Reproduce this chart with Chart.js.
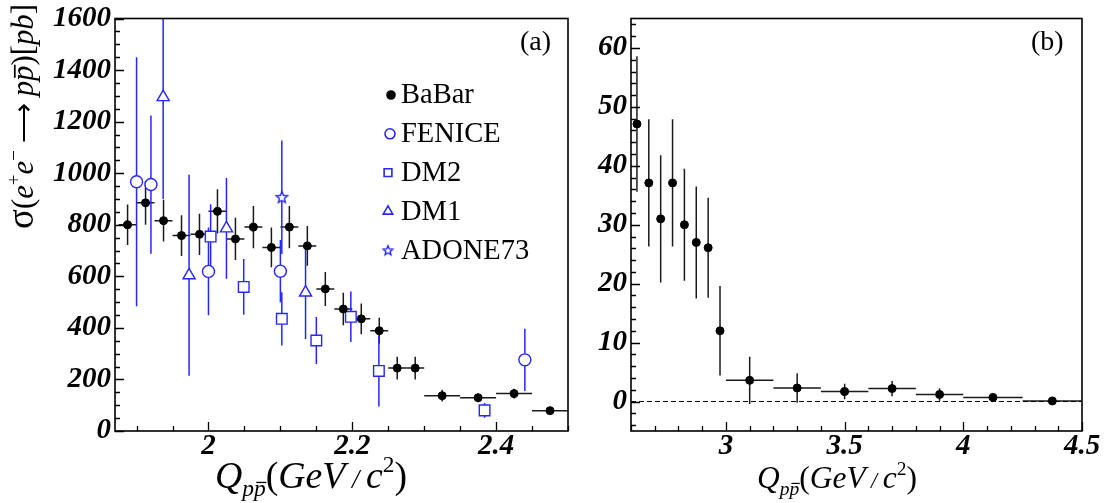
<!DOCTYPE html>
<html>
<head>
<meta charset="utf-8">
<script src="https://cdn.jsdelivr.net/npm/chart.js@4/dist/chart.umd.min.js"></script>
<style>
  body { margin: 0; background: #fff; width: 1106px; height: 503px; position: relative; overflow: hidden; }
  #left { position: absolute; left: 0; top: 0; }
  #right { position: absolute; left: 590px; top: 0; }
  .warm { position: absolute; left: -999px; top: 0; font-family: "Liberation Serif"; }
</style>
</head>
<body>
<span class="warm" style="font-style:italic;font-weight:bold">1600</span>
<span class="warm" style="font-style:italic">GeV</span>
<span class="warm">BaBar</span>
<canvas id="left" width="590" height="503" style="width:590px;height:503px"></canvas>
<canvas id="right" width="516" height="503" style="width:516px;height:503px"></canvas>
<script>
// ---- panel (a) data ----
const babarQ = [1.8875, 1.9125, 1.9375, 1.9625, 1.9875, 2.0125, 2.0375, 2.0625, 2.0875, 2.1125, 2.1375,
                2.1625, 2.1875, 2.2125, 2.2375, 2.2625, 2.2875, 2.325, 2.375, 2.425, 2.475];
const babarBin = [0.0125, 0.0125, 0.0125, 0.0125, 0.0125, 0.0125, 0.0125, 0.0125, 0.0125, 0.0125, 0.0125,
                  0.0125, 0.0125, 0.0125, 0.0125, 0.0125, 0.0125, 0.025, 0.025, 0.025, 0.025];
const babarSigma = [800, 885, 816, 758, 763, 852, 745, 791, 712, 791, 718, 551, 473, 435, 389, 244, 244, 137, 129, 145, 79];
const babarErr = [79, 85, 81, 79, 80, 86, 82, 82, 77, 82, 77, 66, 63, 60, 50, 44, 44, 23, 17, 19, 8];

const feniceQ = [1.90, 1.92, 2.00, 2.10, 2.44];
const feniceSigma = [967, 956, 619, 620, 276];
const feniceErr = [483, 268, 170, 121, 121];

const dm2Q = [2.003, 2.049, 2.102, 2.15, 2.198, 2.237, 2.384];
const dm2Sigma = [754, 559, 435, 351, 443, 233, 80];
const dm2Err = [126, 108, 103, 91, 98, 138, 29];

const dm1Q = [1.937, 1.973, 2.025, 2.135];
const dm1Sigma = [1295, 604, 786, 537];
const dm1Err = [395, 390, 195, 180];

const adoneQ = [2.102];
const adoneSigma = [907];
const adoneErr = [220];

// ---- panel (b) data ----
const highQ = [2.625, 2.675, 2.725, 2.775, 2.825, 2.875, 2.925, 2.975, 3.1, 3.3, 3.5, 3.7, 3.9, 4.125, 4.375];
const highBin = [0.0125, 0.0125, 0.0125, 0.0125, 0.0125, 0.0125, 0.0125, 0.0125, 0.1, 0.1, 0.1, 0.1, 0.1, 0.125, 0.125];
const highSigma = [47.1, 37.1, 31.0, 37.1, 30.0, 27.0, 26.1, 12.0, 3.6, 2.3, 1.7, 2.2, 1.2, 0.7, 0.1];
const highErr = [11.5, 10.8, 10.8, 10.8, 9.5, 9.5, 8.5, 7.6, 4.0, 2.5, 1.3, 1.3, 1.05, 0.5, 0.2];

// tick labels
const leftXLabels = [2, 2.2, 2.4];
const leftYLabels = [0, 200, 400, 600, 800, 1000, 1200, 1400, 1600];
const rightXLabels = [3, 3.5, 4, 4.5];
const rightYLabels = [0, 10, 20, 30, 40, 50, 60];

const BLUE = '#2626ff';
const SERIF = '"Liberation Serif"';
const tickFont = { family: SERIF, style: 'italic', weight: 'bold', size: 29, lineHeight: 1 };

function points(q, s, e, bin) {
  return q.map((v, i) => ({ x: v, y: s[i], e: e[i], xe: bin ? bin[i] : 0 }));
}

function starImage(r) {
  const c = document.createElement('canvas');
  const s = Math.ceil(r * 2 + 4);
  c.width = s; c.height = s;
  const g = c.getContext('2d');
  g.strokeStyle = BLUE; g.fillStyle = '#fff'; g.lineWidth = 1.4;
  g.beginPath();
  for (let k = 0; k < 10; k++) {
    const rr = k % 2 ? r * 0.45 : r;
    const a = -Math.PI / 2 + k * Math.PI / 5;
    const px = s / 2 + rr * Math.cos(a), py = s / 2 + 0.5 + rr * Math.sin(a);
    if (k) g.lineTo(px, py); else g.moveTo(px, py);
  }
  g.closePath(); g.fill(); g.stroke();
  return c;
}

function makeTicks(min, max, step) {
  const out = [];
  const start = Math.ceil(min / step - 1e-9) * step;
  for (let v = start; v <= max + 1e-9; v += step) out.push({ value: Math.round(v * 10000) / 10000 });
  return out;
}

// error bars drawn behind markers
const errorBars = {
  id: 'errorBars',
  beforeDatasetsDraw(chart) {
    const { ctx, chartArea: a, scales: { x, y } } = chart;
    ctx.save();
    ctx.beginPath();
    ctx.rect(a.left, a.top, a.right - a.left, a.bottom - a.top);
    ctx.clip();
    chart.data.datasets.forEach(ds => {
      ctx.strokeStyle = ds.barColor;
      ctx.lineWidth = 1.5;
      ds.data.forEach(p => {
        const px = x.getPixelForValue(p.x), py = y.getPixelForValue(p.y);
        ctx.beginPath();
        ctx.moveTo(px, y.getPixelForValue(p.y - p.e));
        ctx.lineTo(px, y.getPixelForValue(p.y + p.e));
        if (p.xe) {
          ctx.moveTo(x.getPixelForValue(p.x - p.xe), py);
          ctx.lineTo(x.getPixelForValue(p.x + p.xe), py);
        }
        ctx.stroke();
      });
    });
    ctx.restore();
  }
};

function textWidth(ctx, parts) {
  let w = 0;
  parts.forEach(p => { ctx.font = p.f; w += ctx.measureText(p.t).width; });
  return w;
}

function drawRich(ctx, parts, x, y) {
  let cx = x;
  parts.forEach(p => {
    ctx.font = p.f;
    const dy = p.dy || 0;
    ctx.fillText(p.t, cx, y + dy);
    const w = ctx.measureText(p.t).width;
    if (p.over) ctx.fillRect(cx + w * 0.2, y + dy - p.over, w * 0.85, Math.max(1.2, p.over * 0.09));
    cx += w;
  });
}

function xTitleParts(S) {
  const it = s => `italic ${s}px ${SERIF}`, up = s => `${s}px ${SERIF}`;
  const sub = S * 0.62;
  return [
    { t: 'Q', f: it(S) },
    { t: 'p', f: it(sub), dy: S * 0.22 },
    { t: 'p', f: it(sub), dy: S * 0.22, over: sub * 0.62 },
    { t: '(', f: up(S) },
    { t: 'GeV', f: it(S) },
    { t: ' / ', f: it(S * 0.7) },
    { t: 'c', f: it(S) },
    { t: '2', f: up(sub), dy: -S * 0.42 },
    { t: ')', f: up(S) }
  ];
}

function yTitleParts(S) {
  const it = s => `italic ${s}px ${SERIF}`, up = s => `${s}px ${SERIF}`;
  const sup = S * 0.62;
  return [
    { t: 'σ', f: up(S * 1.2) },
    { t: '(', f: up(S) },
    { t: 'e', f: it(S) },
    { t: '+', f: up(sup), dy: -S * 0.42 },
    { t: 'e', f: it(S) },
    { t: '−', f: up(sup), dy: -S * 0.42 },
    { t: ' ⟶ ', f: up(S * 0.9) },
    { t: 'p', f: it(S) },
    { t: 'p', f: it(S), over: S * 0.62 },
    { t: ')', f: up(S) },
    { t: '[', f: up(S) },
    { t: 'pb', f: it(S) },
    { t: ']', f: up(S) }
  ];
}

function fitParts(ctx, builder, target) {
  const w = textWidth(ctx, builder(30));
  return builder(30 * target / w);
}

// frame, inward ticks, titles, legend
const decor = {
  id: 'decor',
  afterDatasetsDraw(chart, args, o) {
    const { ctx, chartArea: a, scales: { x, y } } = chart;
    ctx.save();
    ctx.strokeStyle = '#000';
    ctx.fillStyle = '#000';
    if (o.zeroLine) {
      ctx.lineWidth = 1;
      ctx.setLineDash([5, 3]);
      ctx.beginPath();
      ctx.moveTo(a.left, y.getPixelForValue(0));
      ctx.lineTo(a.right, y.getPixelForValue(0));
      ctx.stroke();
      ctx.setLineDash([]);
    }
    ctx.lineWidth = 1.3;
    ctx.beginPath();
    x.ticks.forEach(t => {
      const px = Math.round(x.getPixelForValue(t.value)) + 0.5;
      const len = o.xLabels.includes(t.value) ? 9 : 5;
      ctx.moveTo(px, a.bottom); ctx.lineTo(px, a.bottom - len);
    });
    y.ticks.forEach(t => {
      const py = Math.round(y.getPixelForValue(t.value)) + 0.5;
      const len = o.yLabels.includes(t.value) ? 9 : 5;
      ctx.moveTo(a.left, py); ctx.lineTo(a.left + len, py);
    });
    ctx.stroke();
    ctx.lineWidth = 1.6;
    ctx.strokeRect(a.left, a.top, a.right - a.left, a.bottom - a.top);

    // panel tag
    ctx.font = `28px ${SERIF}`;
    ctx.textBaseline = 'middle';
    ctx.fillText(o.tag, o.tagX, 43);

    // legend
    if (o.legend) {
      o.legend.forEach((item, i) => {
        const ly = 95 + i * 38.8;
        ctx.fillStyle = item.fill;
        ctx.strokeStyle = item.color;
        Chart.helpers.drawPoint(ctx, { pointStyle: item.style, radius: item.r, rotation: 0, borderWidth: 1.3 }, item.mx, ly);
        ctx.fillStyle = '#000';
        ctx.font = `28.5px ${SERIF}`;
        ctx.textBaseline = 'middle';
        ctx.fillText(item.label, 401, ly + 1);
      });
    }

    // axis titles
    ctx.fillStyle = '#000';
    ctx.textBaseline = 'alphabetic';
    drawRich(ctx, fitParts(ctx, xTitleParts, o.xTitleW), o.xTitleX, 488);
    if (o.yTitle) {
      ctx.translate(33, 229);
      ctx.rotate(-Math.PI / 2);
      drawRich(ctx, fitParts(ctx, yTitleParts, 225), 0, 0);
    }
    ctx.restore();
  }
};

function panel(id, cfg) {
  return new Chart(document.getElementById(id), {
    type: 'scatter',
    data: { datasets: cfg.datasets },
    options: {
      responsive: false,
      animation: false,
      events: [],
      layout: { autoPadding: false, padding: { top: 13, right: cfg.padRight, left: 0, bottom: 0 } },
      plugins: {
        legend: { display: false },
        tooltip: { enabled: false },
        decor: cfg.decor
      },
      scales: {
        x: {
          type: 'linear', min: cfg.xMin, max: cfg.xMax,
          afterFit: s => { s.height = 72; },
          afterBuildTicks: s => { s.ticks = makeTicks(cfg.xMin, cfg.xMax, cfg.xStep); },
          grid: { display: false, drawTicks: false },
          border: { display: false },
          ticks: {
            autoSkip: false, maxRotation: 0, padding: 1, color: '#000', font: tickFont,
            callback: v => cfg.decor.xLabels.includes(v) ? String(v) : ''
          }
        },
        y: {
          type: 'linear', min: cfg.yMin, max: cfg.yMax,
          afterFit: s => { s.width = cfg.yWidth; },
          afterBuildTicks: s => { s.ticks = makeTicks(cfg.yMin, cfg.yMax, cfg.yStep); },
          grid: { display: false, drawTicks: false },
          border: { display: false },
          ticks: {
            autoSkip: false, padding: 4, color: '#000', font: tickFont,
            callback: v => cfg.decor.yLabels.includes(v) ? String(v) : ''
          }
        }
      }
    },
    plugins: [errorBars, decor]
  });
}

function build() {
  const star = starImage(6);
  const starSmall = starImage(5);

  panel('left', {
    xMin: 1.87, xMax: 2.5, xStep: 0.05,
    yMin: 0, yMax: 1600, yStep: 50,
    yWidth: 115, padRight: 22,
    datasets: [
      { label: 'BaBar', data: points(babarQ, babarSigma, babarErr, babarBin), pointStyle: 'circle', pointRadius: 4,
        backgroundColor: '#000', borderColor: '#000', borderWidth: 1, barColor: '#1a1a1a' },
      { label: 'FENICE', data: points(feniceQ, feniceSigma, feniceErr), pointStyle: 'circle', pointRadius: 6,
        backgroundColor: '#fff', borderColor: BLUE, borderWidth: 1.4, barColor: BLUE },
      { label: 'DM2', data: points(dm2Q, dm2Sigma, dm2Err), pointStyle: 'rect', pointRadius: 7.5,
        backgroundColor: '#fff', borderColor: BLUE, borderWidth: 1.4, barColor: BLUE },
      { label: 'DM1', data: points(dm1Q, dm1Sigma, dm1Err), pointStyle: 'triangle', pointRadius: 7,
        backgroundColor: '#fff', borderColor: BLUE, borderWidth: 1.4, barColor: BLUE },
      { label: 'ADONE73', data: points(adoneQ, adoneSigma, adoneErr), pointStyle: star, pointRadius: 6,
        backgroundColor: '#fff', borderColor: BLUE, borderWidth: 1.4, barColor: BLUE }
    ],
    decor: {
      xLabels: leftXLabels, yLabels: leftYLabels, tag: '(a)', tagX: 520,
      xTitleX: 215, xTitleW: 192, yTitle: true,
      legend: [
        { label: 'BaBar', style: 'circle', r: 4, mx: 391, fill: '#000', color: '#000' },
        { label: 'FENICE', style: 'circle', r: 5, mx: 390, fill: '#fff', color: BLUE },
        { label: 'DM2', style: 'rect', r: 5.5, mx: 388, fill: '#fff', color: BLUE },
        { label: 'DM1', style: 'triangle', r: 5.5, mx: 388, fill: '#fff', color: BLUE },
        { label: 'ADONE73', style: starSmall, r: 5, mx: 388, fill: '#fff', color: BLUE }
      ]
    }
  });

  panel('right', {
    xMin: 2.6, xMax: 4.5, xStep: 0.1,
    yMin: -5, yMax: 65, yStep: 2,
    yWidth: 41, padRight: 24,
    datasets: [
      { label: 'BaBar', data: points(highQ, highSigma, highErr, highBin), pointStyle: 'circle', pointRadius: 4,
        backgroundColor: '#000', borderColor: '#000', borderWidth: 1, barColor: '#1a1a1a' }
    ],
    decor: {
      xLabels: rightXLabels, yLabels: rightYLabels, tag: '(b)', tagX: 441,
      xTitleX: 167, xTitleW: 160, yTitle: false, zeroLine: true
    }
  });
}

Promise.all([
  document.fonts.load('italic bold 29px "Liberation Serif"'),
  document.fonts.load('italic 29px "Liberation Serif"'),
  document.fonts.load('29px "Liberation Serif"')
]).then(build, build);
</script>
</body>
</html>
